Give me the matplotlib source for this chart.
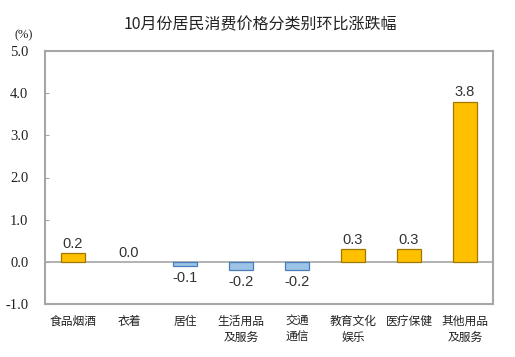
import matplotlib
matplotlib.use("Agg")
import matplotlib.pyplot as plt

categories = ["食品烟酒", "衣着", "居住", "生活用品\n及服务", "交通\n通信", "教育文化\n娱乐", "医疗保健", "其他用品\n及服务"]
values = [0.2, 0.0, -0.1, -0.2, -0.2, 0.3, 0.3, 3.8]
yticks = [-1.0, 0.0, 1.0, 2.0, 3.0, 4.0, 5.0]
title = "10月份居民消费价格分类别环比涨跌幅"

cjk = ["Noto Sans CJK SC", "DejaVu Sans"]
plt.rcParams['font.family'] = cjk

fig = plt.figure(figsize=(5.15, 3.57), dpi=100)
ax = fig.add_axes([45/515, 1-304/357, (493-45)/515, (304-51)/357])

pos_face, pos_edge = "#FFC000", "#A07800"
neg_face, neg_edge = "#9DC3E6", "#4A7EBB"
x = list(range(len(categories)))
for xi, v in zip(x, values):
    if v > 0:
        fc, ec = pos_face, pos_edge
    else:
        fc, ec = neg_face, neg_edge
    if v != 0:
        ax.bar(xi, v, width=0.43, color=fc, edgecolor=ec, linewidth=0.9, zorder=3)
    if v >= 0:
        ax.text(xi, v + 0.05, f"{v:.1f}", ha="center", va="bottom", fontsize=10.5,
                family="Liberation Sans", color="#333333")
    else:
        ax.text(xi, v - 0.12, f"{v:.1f}", ha="center", va="top", fontsize=10.5,
                family="Liberation Sans", color="#333333")

ax.axhline(0, color="#A6A6A6", linewidth=1.2, zorder=2)
ax.set_xlim(-0.5, len(categories) - 0.5)
ax.set_ylim(-1.0, 5.0)
ax.set_yticks(yticks)
ax.set_yticklabels([f"{t:.1f}" for t in yticks], family="Liberation Serif", fontsize=10.5, color="#222222")
ax.set_xticks(x)
ax.set_xticklabels(categories, fontsize=8.5, color="#222222", linespacing=1.25, va="top")
ax.tick_params(axis="x", length=0, pad=8)
ax.tick_params(axis="y", direction="in", length=3, color="#A6A6A6", width=0.8, pad=12)
for s in ax.spines.values():
    s.set_color("#A6A6A6")
    s.set_linewidth(1.5)

fig.text(0.505, 1-25/357, title, ha="center", va="center", fontsize=11.5, color="#222222", fontweight="medium")
fig.text(24/515, 1-35/357, "(%)", ha="center", va="center", fontsize=9, family="Liberation Serif", color="#222222")

fig.savefig("out.png", dpi=100)
